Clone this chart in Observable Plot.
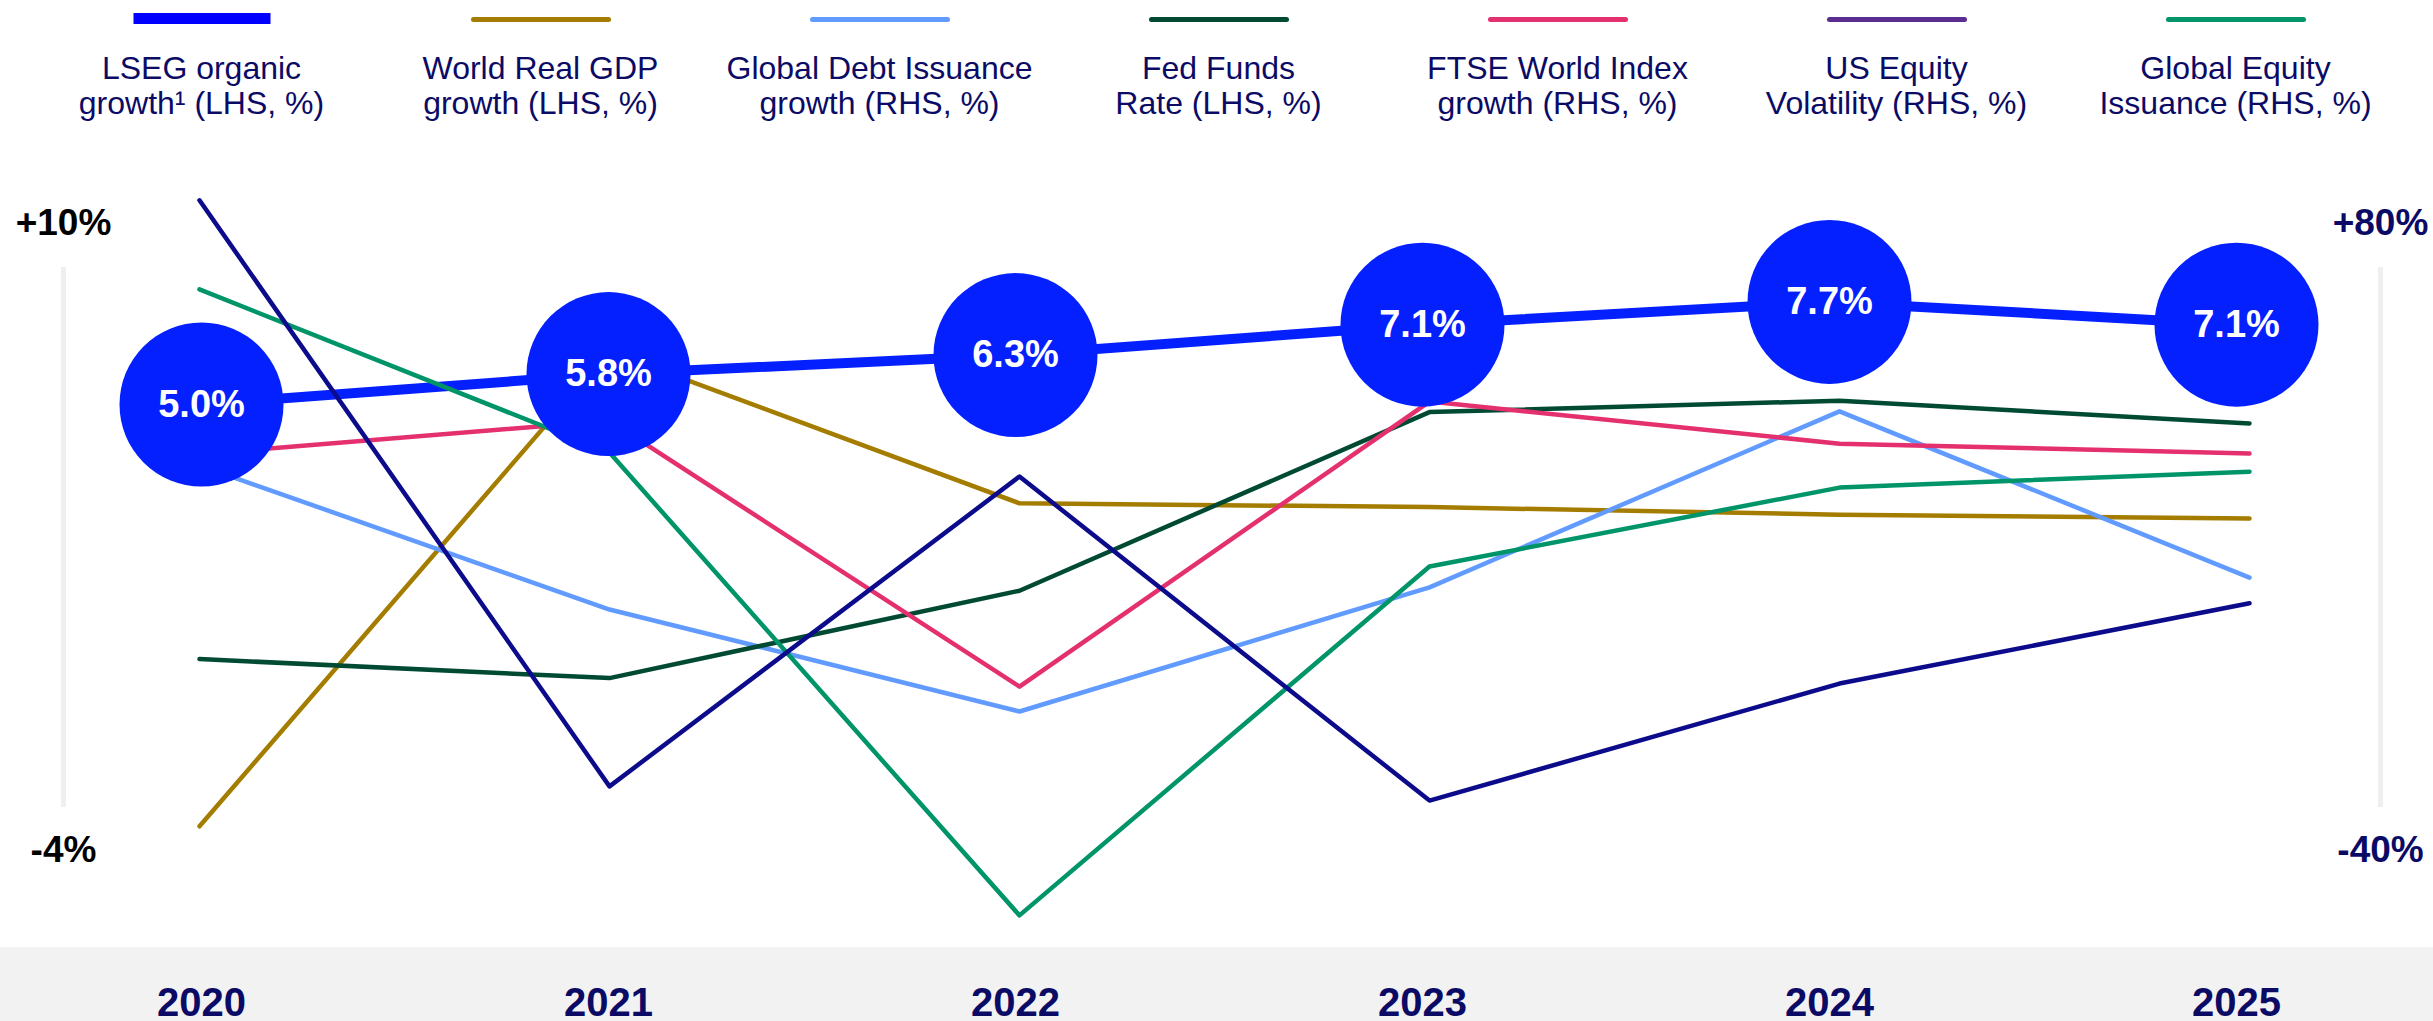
<!DOCTYPE html>
<html><head><meta charset="utf-8">
<script src="https://cdn.jsdelivr.net/npm/d3@7"></script>
<script src="https://cdn.jsdelivr.net/npm/@observablehq/plot@0.6"></script>
<style>
html,body{margin:0;padding:0;background:#fff;}
body{width:2433px;height:1021px;position:relative;overflow:hidden;font-family:"Liberation Sans",Arial,sans-serif;}
#legend{position:absolute;left:0;top:0;width:2433px;height:130px;}
.item{position:absolute;top:0;width:339px;height:130px;}
.sw{position:absolute;left:50%;transform:translateX(-50%);}
.lab{position:absolute;top:51px;left:0;width:100%;text-align:center;font-size:32px;line-height:35px;color:#0b0b66;white-space:nowrap;}
#band{position:absolute;left:0;top:947px;width:2433px;height:74px;background:#f2f2f2;}
.vbar{position:absolute;top:267px;width:5px;height:540px;background:#efefef;}
.layer{position:absolute;left:0;top:130px;}
</style></head>
<body>
<div id="legend"></div>
<div id="band"></div>
<div class="vbar" style="left:60.5px"></div>
<div class="vbar" style="left:2377.5px"></div>
<div id="layer1" class="layer"></div>
<div id="layer2" class="layer"></div>
<div id="layer3" class="layer"></div>
<script>
// ---- data ----
const years = [2020, 2021, 2022, 2023, 2024, 2025];
const lsegGrowth = [5.0, 5.8, 6.3, 7.1, 7.7, 7.1];           // LHS, %
const worldGdp = [-6.1, 6.4, 2.4, 2.3, 2.1, 2.0];             // LHS, %
const fedFunds = [-1.7, -2.2, 0.1, 4.8, 5.1, 4.5];            // LHS, %
const debtIssuance = [23.4, -9.1, -32.1, -4.1, 35.6, -1.9];   // RHS, %
const ftseWorld = [25.9, 33.5, -26.5, 37.8, 28.3, 26.1];      // RHS, %
const usVolatility = [83.2, -49.0, 20.9, -52.2, -25.8, -7.7]; // RHS, %
const equityIssuance = [63.1, 26.3, -78.1, 0.6, 18.4, 22.0];  // RHS, %

const lhsDomain = [-4, 10];
const rhsDomain = [-40, 80];
const leftAxisLabels = ["+10%", "-4%"];
const rightAxisLabels = ["+80%", "-40%"];

const legendTop = ["LSEG organic", "World Real GDP", "Global Debt Issuance", "Fed Funds", "FTSE World Index", "US Equity", "Global Equity"];
const legendBottom = ["growth\u00B9 (LHS, %)", "growth (LHS, %)", "growth (RHS, %)", "Rate (LHS, %)", "growth (RHS, %)", "Volatility (RHS, %)", "Issuance (RHS, %)"];
const legendColors = ["#0000ff", "#a47d00", "#619bff", "#004a33", "#e4306e", "#5c2d91", "#009469"];

// ---- legend ----
const navy = "#0b0b66";
const legend = document.getElementById("legend");
legendTop.forEach((t, i) => {
  const item = document.createElement("div");
  item.className = "item";
  item.style.left = (32 + i * 339) + "px";
  const sw = document.createElement("div");
  sw.className = "sw";
  if (i === 0) {
    Object.assign(sw.style, {top: "13px", width: "137px", height: "11px", background: legendColors[i]});
  } else {
    Object.assign(sw.style, {top: "16.5px", width: "140px", height: "5px", borderRadius: "3px", background: legendColors[i]});
  }
  const lab = document.createElement("div");
  lab.className = "lab";
  lab.appendChild(document.createTextNode(t));
  lab.appendChild(document.createElement("br"));
  lab.appendChild(document.createTextNode(legendBottom[i]));
  item.appendChild(sw);
  item.appendChild(lab);
  legend.appendChild(item);
});

// ---- chart ----
const toLhs = r => lhsDomain[0] + (r - rhsDomain[0]) * (lhsDomain[1] - lhsDomain[0]) / (rhsDomain[1] - rhsDomain[0]);
const rows = (arr, f = v => v) => years.map((year, i) => ({year, value: f(arr[i]), raw: arr[i]}));
const thin = [
  {data: rows(worldGdp), color: "#a47d00"},
  {data: rows(debtIssuance, toLhs), color: "#619bff"},
  {data: rows(fedFunds), color: "#004a33"},
  {data: rows(ftseWorld, toLhs), color: "#e4306e"},
  {data: rows(equityIssuance, toLhs), color: "#009469"},
  {data: rows(usVolatility, toLhs), color: "#0b0b8c"}
];
const lseg = rows(lsegGrowth);
const font = "Liberation Sans, Arial, sans-serif";

// lines sit on one point grid, LSEG bubbles and year labels on a slightly narrower one
const lineRange = [198, 2250];
const bubbleRange = [200, 2237];

function layer(xRange, marks) {
  return Plot.plot({
    width: 2433, height: 891,
    marginLeft: 63, marginRight: 53, marginTop: 137, marginBottom: 214,
    style: {background: "transparent", fontFamily: font, overflow: "visible"},
    x: {type: "point", domain: years, range: xRange, padding: 0, axis: null},
    y: {type: "linear", domain: lhsDomain, range: [616, 84], axis: null},
    marks
  });
}

const axisText = {fontSize: 37, fontWeight: "bold", textAnchor: "middle"};

document.getElementById("layer1").appendChild(layer(bubbleRange, [
  Plot.line(lseg, {x: "year", y: "value", stroke: "#0520ff", strokeWidth: 10})
]));

document.getElementById("layer2").appendChild(layer(lineRange, [
  ...thin.map(s => Plot.line(s.data, {x: "year", y: "value", stroke: s.color, strokeWidth: 4.5, strokeLinecap: "round", strokeLinejoin: "round"})),
  Plot.text([leftAxisLabels[0]], {...axisText, frameAnchor: "top-left", dy: -59, fill: "#000"}),
  Plot.text([leftAxisLabels[1]], {...axisText, frameAnchor: "bottom-left", dy: 54, fill: "#000"}),
  Plot.text([rightAxisLabels[0]], {...axisText, frameAnchor: "top-right", dy: -59, fill: navy}),
  Plot.text([rightAxisLabels[1]], {...axisText, frameAnchor: "bottom-right", dy: 54, fill: navy})
]));

document.getElementById("layer3").appendChild(layer(bubbleRange, [
  Plot.dot(lseg, {x: "year", y: "value", r: 82, fill: "#0520ff", stroke: null}),
  Plot.text(lseg, {x: "year", y: "value", text: d => d.raw.toFixed(1) + "%", fill: "white", fontSize: 38, fontWeight: "bold"}),
  Plot.axisX({tickSize: 0, tickPadding: 180, fontSize: 40, fontWeight: "bold", fill: navy, tickFormat: String, label: null})
]));
</script>
</body></html>
